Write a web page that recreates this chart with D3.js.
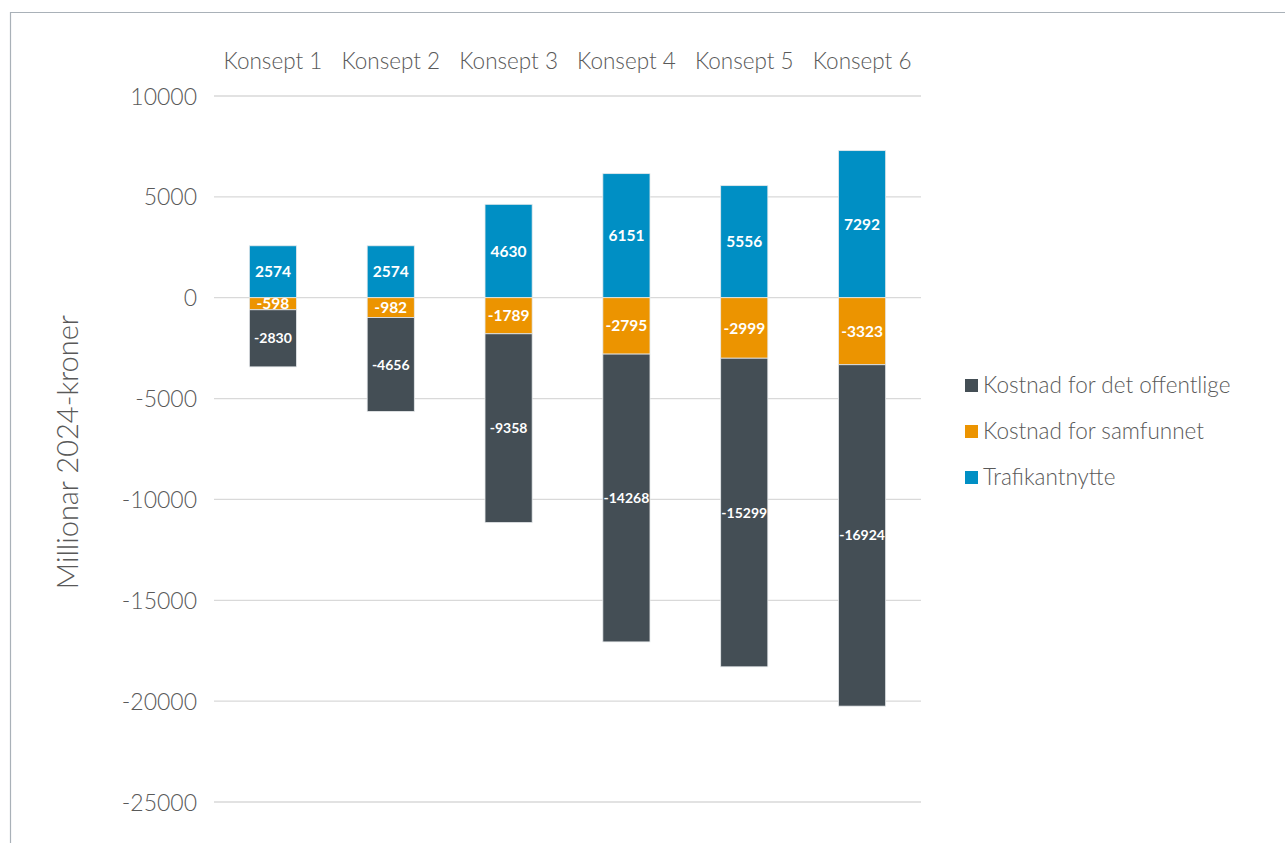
<!DOCTYPE html>
<html>
<head>
<meta charset="utf-8">
<script src="https://cdn.jsdelivr.net/npm/d3@7"></script>
<style>
  html, body { margin: 0; padding: 0; background: #ffffff; }
  svg { display: block; }
</style>
</head>
<body>
<svg id="chart" width="1285" height="843"></svg>
<script>
// Categories and series values (million 2024 NOK)
const categories = ["Konsept 1", "Konsept 2", "Konsept 3", "Konsept 4", "Konsept 5", "Konsept 6"];
const trafikantnytte = [2574, 2574, 4630, 6151, 5556, 7292];
const kostnadSamfunnet = [-598, -982, -1789, -2795, -2999, -3323];
const kostnadOffentlige = [-2830, -4656, -9358, -14268, -15299, -16924];
const yTicks = [10000, 5000, 0, -5000, -10000, -15000, -20000, -25000];

const seriesNames = ["Kostnad for det offentlige", "Kostnad for samfunnet", "Trafikantnytte"];
const seriesColors = {
  "Kostnad for det offentlige": "#444e55",
  "Kostnad for samfunnet": "#ec9400",
  "Trafikantnytte": "#008fc4"
};

const svg = d3.select("#chart");
const W = 1285, H = 843;

// Outer frame (top and left edges)
svg.append("line").attr("x1", 10).attr("x2", W).attr("y1", 12.5).attr("y2", 12.5)
  .attr("stroke", "#a9b1b8").attr("stroke-width", 1.2);
svg.append("line").attr("x1", 10.5).attr("x2", 10.5).attr("y1", 12).attr("y2", H)
  .attr("stroke", "#a9b1b8").attr("stroke-width", 1.2);

const plot = { left: 214, right: 921, top: 96, bottom: 802 };

const x = d3.scaleBand().domain(categories).range([plot.left, plot.right]).paddingInner(0.6).paddingOuter(0.3);
const y = d3.scaleLinear().domain([-25000, 10000]).range([plot.bottom, plot.top]);

const textFont = "Lato, 'Open Sans', sans-serif";

// Gridlines
svg.append("g").selectAll("line").data(yTicks).join("line")
  .attr("x1", plot.left).attr("x2", plot.right)
  .attr("y1", d => y(d)).attr("y2", d => y(d))
  .attr("stroke", "#d9d9d9").attr("stroke-width", 1.3);

// Y axis labels
const yAxis = d3.axisLeft(y).tickValues(yTicks).tickSize(0).tickPadding(0).tickFormat(d3.format("d"));
const yg = svg.append("g").attr("transform", `translate(${plot.left - 17},0)`).call(yAxis);
yg.select(".domain").remove();
yg.selectAll("text").attr("font-family", textFont).attr("font-weight", 300)
  .attr("font-size", 23).attr("fill", "#595959").attr("dy", "0.35em")
  .text(d => d < 0 ? "-" + Math.abs(d) : String(d));

// Category labels above plot
const xAxis = d3.axisTop(x).tickSize(0).tickPadding(0);
const xg = svg.append("g").attr("transform", `translate(0,${plot.top - 35})`).call(xAxis);
xg.select(".domain").remove();
xg.selectAll("text").attr("font-family", textFont).attr("font-weight", 300)
  .attr("font-size", 22.5).attr("fill", "#595959").attr("dy", "0.35em");

// Y title
svg.append("text")
  .attr("transform", `translate(78,${452}) rotate(-90)`)
  .attr("text-anchor", "middle")
  .attr("font-family", textFont).attr("font-weight", 300)
  .attr("font-size", 29).attr("fill", "#595959")
  .text("Millionar 2024-kroner");

// Stacked segments: positive stack upward, negative stack downward from zero
const rows = categories.map((c, i) => {
  const segs = [];
  segs.push({ cat: c, series: "Trafikantnytte", value: trafikantnytte[i], y0: 0, y1: trafikantnytte[i] });
  const s0 = 0, s1 = kostnadSamfunnet[i];
  segs.push({ cat: c, series: "Kostnad for samfunnet", value: kostnadSamfunnet[i], y0: s0, y1: s1 });
  segs.push({ cat: c, series: "Kostnad for det offentlige", value: kostnadOffentlige[i], y0: s1, y1: s1 + kostnadOffentlige[i] });
  return segs;
}).flat();

svg.append("g").selectAll("rect").data(rows).join("rect")
  .attr("x", d => x(d.cat))
  .attr("width", x.bandwidth())
  .attr("y", d => y(Math.max(d.y0, d.y1)))
  .attr("height", d => Math.abs(y(d.y0) - y(d.y1)))
  .attr("fill", d => seriesColors[d.series])
  .attr("stroke", "#e6e9eb").attr("stroke-width", 0.8);

// Value labels centred in each segment
svg.append("g").selectAll("text").data(rows).join("text")
  .attr("x", d => x(d.cat) + x.bandwidth() / 2)
  .attr("y", d => (y(d.y0) + y(d.y1)) / 2)
  .attr("dy", "0.36em")
  .attr("text-anchor", "middle")
  .attr("font-family", textFont).attr("font-weight", 700)
  .attr("font-size", d => d.series === "Kostnad for det offentlige" ? 14 : 15.5)
  .attr("fill", "#ffffff")
  .text(d => d.value < 0 ? "-" + Math.abs(d.value) : String(d.value));

// Legend
const legend = svg.append("g").attr("transform", "translate(965,385)");
const li = legend.selectAll("g").data(seriesNames).join("g")
  .attr("transform", (d, i) => `translate(0,${i * 46})`);
li.append("rect").attr("x", 0).attr("y", -6).attr("width", 13).attr("height", 13)
  .attr("fill", d => seriesColors[d]);
li.append("text").attr("x", 18).attr("y", 0).attr("dy", "0.35em")
  .attr("font-family", textFont).attr("font-weight", 300)
  .attr("font-size", 22.5).attr("fill", "#595959")
  .text(d => d);
</script>
</body>
</html>
